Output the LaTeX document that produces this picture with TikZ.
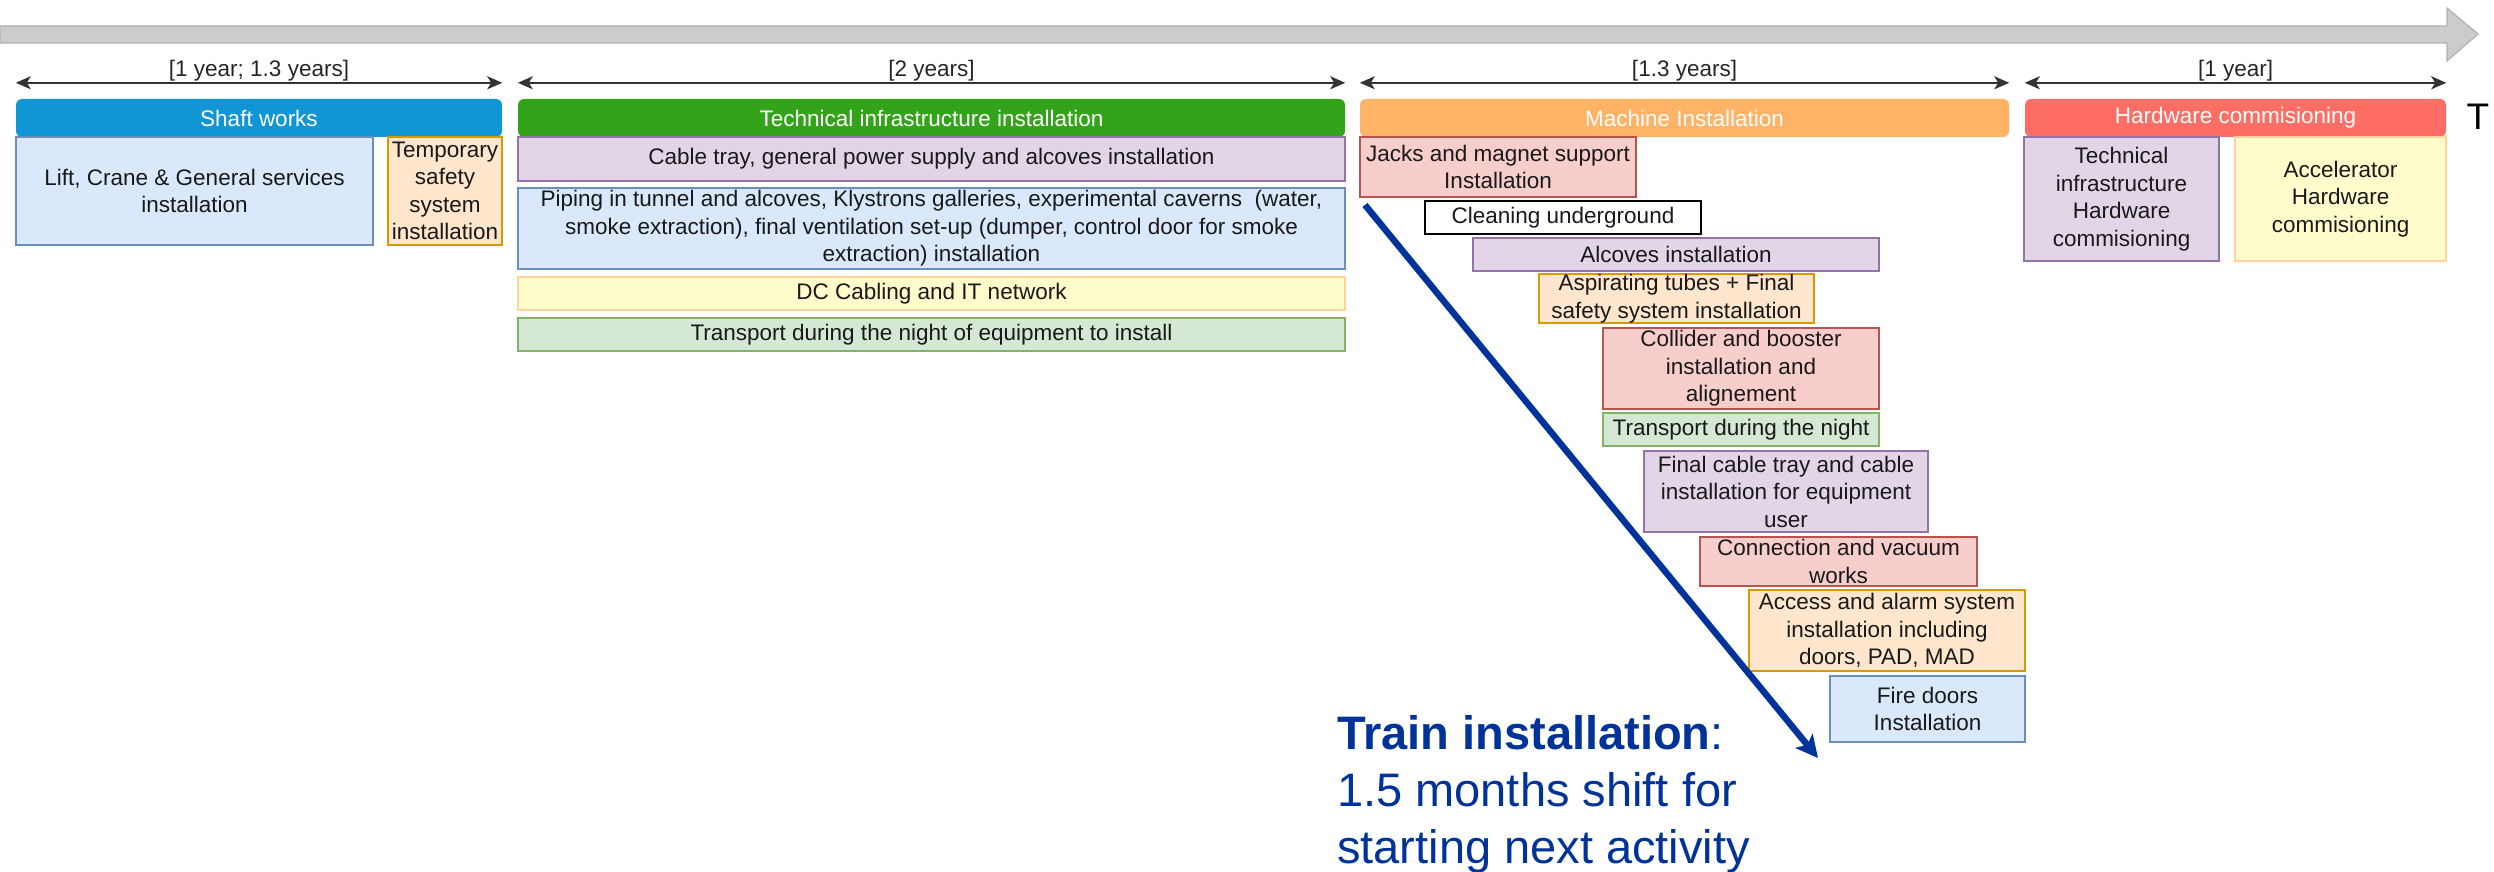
\documentclass[tikz,border=0pt]{standalone}
\usepackage{fontspec}
\setmainfont{Liberation Sans}
\usepackage{tikz}
\usetikzlibrary{arrows.meta}

\definecolor{shaftblue}{HTML}{1196D5}
\definecolor{techgreen}{HTML}{33A31A}
\definecolor{machorange}{HTML}{FFB366}
\definecolor{hwred}{HTML}{FF6E64}
\definecolor{shiftblue}{HTML}{003399}
\definecolor{bluefill}{HTML}{DAE8FC}\definecolor{blueline}{HTML}{6C8EBF}
\definecolor{purplefill}{HTML}{E1D5E7}\definecolor{purpleline}{HTML}{9673A6}
\definecolor{yellowfill}{HTML}{FFFCCC}\definecolor{yellowline}{HTML}{FFD29E}
\definecolor{orangefill}{HTML}{FFE6CC}\definecolor{orangeline}{HTML}{D79B00}
\definecolor{redfill}{HTML}{F8CECC}\definecolor{redline}{HTML}{B85450}
\definecolor{greenfill}{HTML}{D5E8D4}\definecolor{greenline}{HTML}{82B366}

\newcommand\boxfont{\fontsize{22.5}{27.5}\selectfont}

\begin{document}
\begin{tikzpicture}[x=1pt,y=-1pt,>=Latex,
  task/.style={draw,rectangle,align=center,inner sep=0pt,line width=1.6pt,font=\boxfont,text=black!90},
  bluebox/.style={task,fill=bluefill,draw=blueline},
  purplebox/.style={task,fill=purplefill,draw=purpleline},
  yellowbox/.style={task,fill=yellowfill,draw=yellowline},
  orangebox/.style={task,fill=orangefill,draw=orangeline},
  redbox/.style={task,fill=redfill,draw=redline},
  greenbox/.style={task,fill=greenfill,draw=greenline},
  phase/.style={rectangle,rounded corners=6pt,inner sep=0pt,minimum height=38pt,font=\boxfont,text=white},
  span/.style={{Stealth[length=15pt,width=13pt,inset=4pt]}-{Stealth[length=15pt,width=13pt,inset=4pt]},line width=2pt,draw=black!80},
  spanlabel/.style={midway,anchor=base,yshift=6.5pt,inner sep=0pt,font=\boxfont,text=black!85}]
\useasboundingbox (0,0) rectangle (2494,872);

\draw[fill=black!20,draw=black!30,line width=1.2pt]
  (0,26) -- (2447,26) -- (2447,8) -- (2478,34) -- (2447,61) -- (2447,43) -- (0,43) -- cycle;

\node[phase,fill=shaftblue,minimum width=486pt] (shaft) at (259,118) {Shaft works};
\node[phase,fill=techgreen,minimum width=827pt] (tech) at (931.5,118) {Technical infrastructure installation};
\node[phase,fill=machorange,minimum width=649pt] (machine) at (1684.5,118) {Machine Installation};
\node[phase,fill=hwred,minimum width=421pt] (hardware) at (2235.5,118) {Hardware commisioning};
\node[font=\fontsize{37}{40}\selectfont,inner sep=0pt] (tlabel) at (2478,117) {T};

\draw[span] ([yshift=16pt]shaft.north west) -- ([yshift=16pt]shaft.north east) node[spanlabel] {[1 year; 1.3 years]};
\draw[span] ([yshift=16pt]tech.north west) -- ([yshift=16pt]tech.north east) node[spanlabel] {[2 years]};
\draw[span] ([yshift=16pt]machine.north west) -- ([yshift=16pt]machine.north east) node[spanlabel] {[1.3 years]};
\draw[span] ([yshift=16pt]hardware.north west) -- ([yshift=16pt]hardware.north east) node[spanlabel] {[1 year]};

\node[bluebox,minimum width=357pt,minimum height=108pt] (lift) at (194.5,191) {Lift, Crane \& General services\\installation};
\node[orangebox,minimum width=114pt,minimum height=108pt] (tempsafety) at (445,191) {Temporary\\safety\\system\\installation};

\node[purplebox,minimum width=827pt,minimum height=44pt] (cabletray) at (931.5,159) {Cable tray, general power supply and alcoves installation};
\node[bluebox,minimum width=827pt,minimum height=81pt] (piping) at (931.5,228.5) {Piping in tunnel and alcoves, Klystrons galleries, experimental caverns \ (water,\\smoke extraction), final ventilation set-up (dumper, control door for smoke\\extraction) installation};
\node[yellowbox,minimum width=827pt,minimum height=33pt] (dccabling) at (931.5,293.5) {DC Cabling and IT network};
\node[greenbox,minimum width=827pt,minimum height=33pt] (transport) at (931.5,334.5) {Transport during the night of equipment to install};

\node[redbox,minimum width=276pt,minimum height=60pt] (jacks) at (1498,167) {Jacks and magnet support\\Installation};
\node[task,minimum width=276pt,minimum height=33pt] (cleaning) at (1563,217.5) {Cleaning underground};
\node[purplebox,minimum width=406pt,minimum height=33pt] (alcoves) at (1676,254.5) {Alcoves installation};
\node[orangebox,minimum width=275pt,minimum height=45pt] (aspirating) at (1676.5,298.5) {Aspirating tubes + Final\\safety system installation};
\node[redbox,minimum width=276pt,minimum height=81pt] (collider) at (1741,368.5) {Collider and booster\\installation and\\alignement};
\node[greenbox,minimum width=276pt,minimum height=33pt] (nighttransport) at (1741,429.5) {Transport during the night};
\node[purplebox,minimum width=284pt,minimum height=81pt] (finaltray) at (1786,491.5) {Final cable tray and cable\\installation for equipment\\user};
\node[redbox,minimum width=277pt,minimum height=49pt] (vacuum) at (1838.5,561.5) {Connection and vacuum\\works};
\node[orangebox,minimum width=276pt,minimum height=81pt] (access) at (1887,630.5) {Access and alarm system\\installation including\\doors, PAD, MAD};
\node[bluebox,minimum width=195pt,minimum height=66pt] (firedoors) at (1927.5,709) {Fire doors\\Installation};

\node[purplebox,minimum width=195pt,minimum height=124pt] (techhw) at (2121.5,199) {Technical\\infrastructure\\Hardware\\commisioning};
\node[yellowbox,minimum width=211pt,minimum height=124pt] (accelhw) at (2340.5,199) {Accelerator\\Hardware\\commisioning};

\coordinate (shiftstart) at (1365,205);
\coordinate (shiftend) at (1818,758);
\draw[shiftblue,line width=6.5pt,-{Stealth[length=22pt,width=22pt,inset=5pt]}] (shiftstart) -- (shiftend);

\node[anchor=base west,align=left,inner sep=0pt,text=shiftblue,font=\fontsize{47}{57}\selectfont] (trainnote) at (1337,863)
  {\textbf{Train installation}:\\1.5 months shift for\\starting next activity};
\end{tikzpicture}
\end{document}
